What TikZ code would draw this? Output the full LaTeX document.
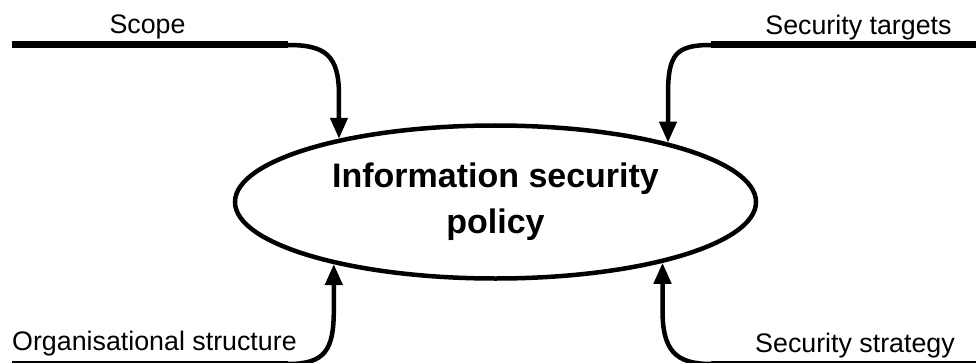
\documentclass[tikz,border=0pt]{standalone}
\usepackage{fontspec}
\setmainfont{Liberation Sans}
\usepackage{tikz}
\usetikzlibrary{arrows.meta,shapes.geometric}

\begin{document}
\begin{tikzpicture}[x=1pt, y=1pt,
		feedline/.style={line width=7pt},
		feed/.style={line width=4.5pt, -{Triangle[length=21pt, width=17pt]}},
		lbl/.style={font=\fontsize{26.8}{30}\selectfont, inner sep=0pt}]
		\useasboundingbox (0,0) rectangle (976,362);
		
		\node[ellipse, draw, line width=4.5pt, minimum width=521pt, minimum height=153pt,
			align=center, font=\fontsize{34}{46}\selectfont\bfseries] (policy) at (495.5,160)
			{Information security\\policy};
		
		% labels
		\node[lbl, anchor=base] (scope) at (147.5,328) {Scope};
		\node[lbl, anchor=base] (targets) at (858.5,327) {Security targets};
		\node[lbl, anchor=base west] (orgstruct) at (12,12) {Organisational structure};
		\node[lbl, anchor=base east] (strategy) at (955,10) {Security strategy};
		
		% feed lines
		\coordinate (scopeL) at (12,317);
		\coordinate (scopeC) at (288,317);
		\coordinate (targetsR) at (976,317);
		\coordinate (targetsC) at (711,317);
		\coordinate (orgL) at (12,-2);
		\coordinate (orgC) at (288,-2);
		\coordinate (stratR) at (976,-2);
		\coordinate (stratC) at (711,-2);
		
		\draw[feedline] (scopeL) -- (scopeC);
		\draw[feedline] (targetsR) -- (targetsC);
		\draw[feedline] (orgL) -- (orgC);
		\draw[feedline] (stratR) -- (stratC);
		
		\draw[feed] (scopeC) .. controls +(37,0) and +(0,40) .. (policy.158 |- 0,267) -- (policy.158);
		\draw[feed] (targetsC) .. controls +(-36,0) and +(0,40) .. (policy.19.5 |- 0,267) -- (policy.19.5);
		\draw[feed] (orgC) .. controls +(37,0) and +(0,-40) .. (policy.201.7 |- 0,52) -- (policy.201.7);
		\draw[feed] (stratC) .. controls +(-36,0) and +(0,-40) .. (policy.340.5 |- 0,52) -- (policy.340.5);
	\end{tikzpicture}
\end{document}
